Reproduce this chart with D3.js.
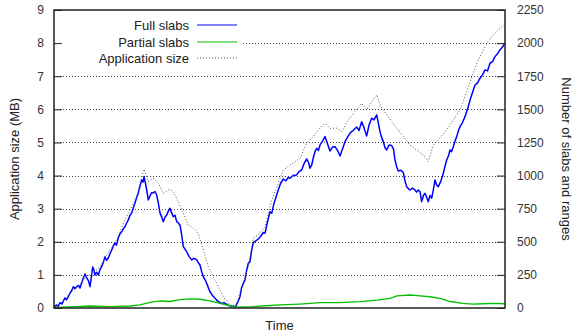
<!DOCTYPE html>
<html>
<head>
<meta charset="utf-8">
<script src="https://cdn.jsdelivr.net/npm/d3@7"></script>
<style>
  html, body { margin: 0; padding: 0; background: #fff; }
  svg { display: block; }
  text { font-family: "Liberation Sans", Arial, sans-serif; }
</style>
</head>
<body>
<svg id="chart" width="576" height="333"></svg>
<script>
// Time axis units (sample index) for the full-slab series
const fullTime = [0,1.5,2.7,4,6,8,9.5,11,12.5,14.3,16,17.5,19.3,21,22.7,24.5,26,27.7,29.5,31,32.7,34.5,36,37.5,38.7,40,41,42.5,44.3,46,47.7,49.5,51,52.5,54.3,56,57.7,59.5,61,62.5,64.3,66,67.7,69.5,71,72.5,74.3,76,77.7,79.5,81,82.5,84.3,86,87.7,89,90,91.5,92.7,94.3,96,97.5,99.3,101,102.7,104.3,106,107.5,109.3,111,112.7,114.5,116,117.5,119.3,121,122.7,124.5,126,127.5,129.3,131,132.7,135,137.7,140,142.7,144.5,146,147.5,149.3,151,152.7,154.5,156,158.5,161,164,167.7,170,172.7,175,177.7,179.5,181,183.5,186,187.5,189.3,191,192.5,194.3,196,197.5,199.3,201.5,204.3,206.5,209.3,211,213.5,216,217.7,220,222.7,224.3,226.5,229.3,232,234,236,239,242.7,245,247.7,250,252.7,254.5,256,257.7,259.5,261,262.7,264.5,266,268.5,271,273.5,276,278.5,281,283.5,286,288.5,291,293.5,296,299,302.7,305,307.7,310,312.7,315,317.7,320,322.7,324.5,326,327.5,329.3,331,332.7,335,337.7,339.5,341,342.5,344.3,347,349.3,351,352.7,354.5,356,358.5,361,362.5,364.3,366,367.7,369.5,371,372.5,374.3,376,377.7,379.5,381,382.5,384.3,387,389.3,391,392.7,394.5,396,397.5,399.3,401,402.7,404.5,406,408.5,411,412.5,414.3,416,417.7,419.5,421,423.5,426,428.5,431,433.5,436,438.5,441,443.5,446,448.5,451];
// Number of full slabs
const fullSlabs = [0,18,23,12,40,30,55,76,62,85,113,128,161,148,161,170,151,189,230,257,227,205,161,240,310,285,249,270,249,290,312,350,387,360,378,410,438,470,491,475,529,560,576,600,614,640,665,700,718,760,793,830,869,920,967,950,992,940,891,816,846,870,869,880,853,793,718,690,652,685,702,735,753,720,690,700,652,640,627,560,463,445,425,390,363,375,363,340,325,280,236,215,187,150,123,95,73,50,35,40,28,18,10,15,4,40,85,150,187,211,280,338,350,430,495,505,521,540,570,564,650,727,715,790,853,891,940,974,960,985,980,1000,1005,1030,1042,1090,1125,1100,1055,1080,1140,1181,1206,1190,1231,1260,1294,1240,1186,1215,1218,1190,1148,1200,1256,1290,1320,1340,1367,1340,1407,1360,1299,1380,1433,1420,1458,1390,1332,1290,1256,1210,1193,1230,1227,1200,1118,1070,1035,1040,1023,960,916,900,891,905,891,875,891,878,803,850,866,840,803,850,829,900,967,930,916,960,1017,1070,1118,1150,1193,1180,1218,1260,1294,1340,1369,1400,1445,1480,1520,1570,1609,1650,1684,1700,1735,1760,1798,1790,1848,1860,1898,1920,1949,1970,2002];

const partialTime = [0,16,36,56,76,86,96,106,116,126,136,146,156,166,176,184,198,211,226,246,266,286,306,323,336,343,356,366,376,386,396,409,419,429,439,451];
// Number of partial slabs
const partialSlabs = [4,8,15,11,15,23,42,53,49,64,69,66,53,35,17,6,10,17,23,30,40,40,48,60,73,91,98,91,85,73,49,35,30,32,35,32];

const appTime = [0,8,16,24,32,40,46,52,58,64,69.3,76,82.7,87,90,94.3,99.3,104.3,109.3,116,119.3,124.3,129.3,134.3,139.3,144.3,149.3,154.3,159.3,164.3,169.3,174.3,179.3,182,187.7,194.3,199.3,204.3,211,217.7,224.3,229.3,236,246,252.7,259.3,266,271,276,282.7,287.7,294.3,301,307.7,312.7,317.7,322.7,327.7,334.3,341,349.3,356,362.7,369.3,374.3,379.3,386,392.7,399.3,406,411,417.7,424.3,431,437.7,444.3,451];
// Application size in MB
const appSize = [0,0.18,0.45,0.63,0.94,1.09,1.24,1.57,1.84,2.14,2.56,2.96,3.36,3.87,4.19,3.82,3.92,3.77,3.47,3.59,3.51,3.21,2.86,2.51,2.41,2.26,1.75,1.25,0.95,0.64,0.34,0.14,0.05,0.02,0.64,1.25,2.11,2.21,2.46,3.26,3.77,4.17,4.32,4.52,4.98,5.18,5.43,5.58,5.43,5.43,5.33,5.68,5.93,6.18,5.98,6.23,6.44,6.03,5.78,5.5,5.18,4.92,4.77,4.62,4.42,4.92,5.13,5.38,5.68,5.98,6.38,6.99,7.49,7.89,8.20,8.40,8.58];

const leftTicks = [0,1,2,3,4,5,6,7,8,9];
const rightTicks = [0,250,500,750,1000,1250,1500,1750,2000,2250];
const legendLabels = ["Full slabs", "Partial slabs", "Application size"];

const svg = d3.select("#chart");
const L = 54, R = 505, T = 10, B = 308;

const x = d3.scaleLinear().domain([0, 451]).range([L, R]);
const yMB = d3.scaleLinear().domain([0, 9]).range([B, T]);
const ySlabs = d3.scaleLinear().domain([0, 2250]).range([B, T]);

// Horizontal dotted grid lines (the top one stops short of the key)
const grid = svg.append("g");
leftTicks.filter(v => v > 0 && v < 9).forEach(v => {
  const yy = Math.round(yMB(v)) + 0.5;
  grid.append("line")
    .attr("x1", v === 8 ? 243 : L).attr("x2", R)
    .attr("y1", yy).attr("y2", yy)
    .attr("stroke", "#444").attr("stroke-width", 1)
    .attr("stroke-dasharray", "1,2");
});

// Left axis
const leftAxis = d3.axisLeft(yMB).tickValues(leftTicks).tickFormat(d3.format("d")).tickSize(-8).tickPadding(10);
const gl = svg.append("g").attr("transform", `translate(${L},0)`).call(leftAxis);
// Right axis
const rightAxis = d3.axisRight(ySlabs).tickValues(rightTicks).tickFormat(d3.format("d")).tickSize(-8).tickPadding(12);
const gr = svg.append("g").attr("transform", `translate(${R},0)`).call(rightAxis);
[gl, gr].forEach(g => {
  g.select(".domain").remove();
  g.selectAll(".tick line").attr("stroke", "#222").attr("stroke-width", 1);
  g.selectAll(".tick text").attr("fill", "#333").style("font-size", "12px")
    .style("font-family", "'Liberation Sans', Arial, sans-serif");
});

// Series
const blueLine = d3.line().x((d, i) => x(fullTime[i])).y(d => ySlabs(d));
svg.append("path").datum(fullSlabs).attr("d", blueLine)
  .attr("fill", "none").attr("stroke", "#0000ff").attr("stroke-width", 1.5).attr("stroke-linejoin", "round");

const greenLine = d3.line().x((d, i) => x(partialTime[i])).y(d => ySlabs(d));
svg.append("path").datum(partialSlabs).attr("d", greenLine)
  .attr("fill", "none").attr("stroke", "#00c000").attr("stroke-width", 1.3);

const greyLine = d3.line().x((d, i) => x(appTime[i])).y(d => yMB(d));
svg.append("path").datum(appSize).attr("d", greyLine)
  .attr("fill", "none").attr("stroke", "#555").attr("stroke-width", 1)
  .attr("stroke-dasharray", "1,2");

// Frame
svg.append("rect").attr("x", L).attr("y", T).attr("width", R - L).attr("height", B - T)
  .attr("fill", "none").attr("stroke", "#222").attr("stroke-width", 1.5);

// Key
const legendStyles = [
  { stroke: "#0000ff", dash: null, width: 1 },
  { stroke: "#00c000", dash: null, width: 1 },
  { stroke: "#555", dash: "1,2", width: 1 }
];
const legendY = [25, 42, 58];
legendLabels.forEach((lab, i) => {
  svg.append("text").attr("x", 189).attr("y", legendY[i]).attr("dy", "0.35em")
    .attr("text-anchor", "end").attr("fill", "#222").style("font-size", "13px").text(lab);
  svg.append("line").attr("x1", 197).attr("x2", 237).attr("y1", legendY[i]).attr("y2", legendY[i])
    .attr("stroke", legendStyles[i].stroke).attr("stroke-width", legendStyles[i].width)
    .attr("stroke-dasharray", legendStyles[i].dash);
});

// Axis titles
svg.append("text").attr("x", (L + R) / 2).attr("y", 325).attr("dy", "0.35em")
  .attr("text-anchor", "middle").attr("fill", "#222").style("font-size", "13px").text("Time");
svg.append("text").attr("transform", `translate(14,${(T + B) / 2}) rotate(-90)`).attr("dy", "0.35em")
  .attr("text-anchor", "middle").attr("fill", "#222").style("font-size", "13px").text("Application size (MB)");
svg.append("text").attr("transform", `translate(567,${(T + B) / 2}) rotate(90)`).attr("dy", "0.35em")
  .attr("text-anchor", "middle").attr("fill", "#222").style("font-size", "13px").text("Number of slabs and ranges");
</script>
</body>
</html>
